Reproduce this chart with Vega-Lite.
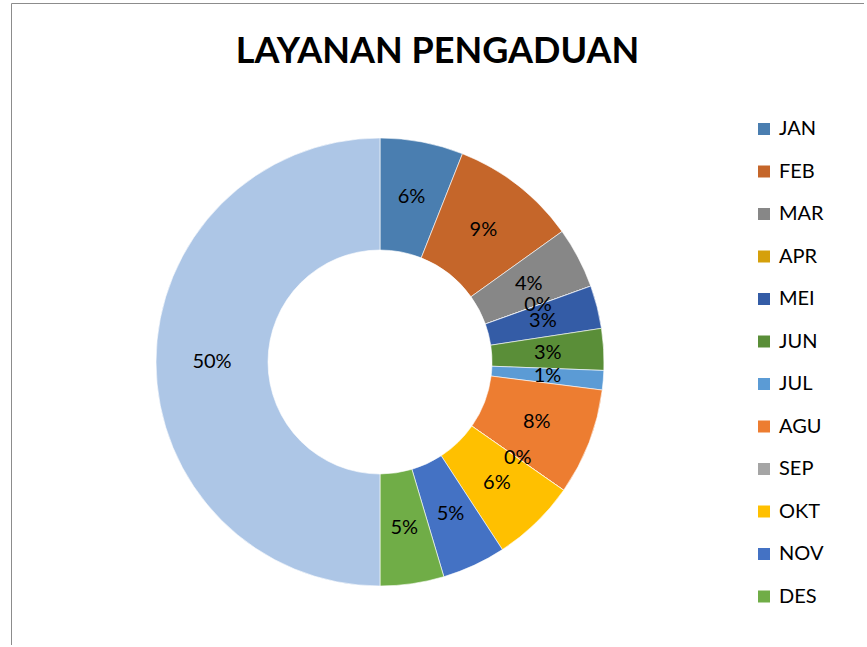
{
  "$schema": "https://vega.github.io/schema/vega-lite/v6.json",
  "width": 853,
  "height": 642,
  "autosize": "none",
  "padding": {"left": 11, "top": 3, "right": 0, "bottom": 0},
  "background": "white",
  "view": {"stroke": "#8c8c8c", "strokeWidth": 1},
  "config": {"view": {"stroke": "#8c8c8c", "strokeWidth": 1}, "font": "Lato"},
  "data": {"values": [
    {"i": 1, "m": "JAN", "v": 0.060},
    {"i": 2, "m": "FEB", "v": 0.091},
    {"i": 3, "m": "MAR", "v": 0.044},
    {"i": 4, "m": "APR", "v": 0.0},
    {"i": 5, "m": "MEI", "v": 0.031},
    {"i": 6, "m": "JUN", "v": 0.030},
    {"i": 7, "m": "JUL", "v": 0.014},
    {"i": 8, "m": "AGU", "v": 0.077},
    {"i": 9, "m": "SEP", "v": 0.0},
    {"i": 10, "m": "OKT", "v": 0.061},
    {"i": 11, "m": "NOV", "v": 0.046},
    {"i": 12, "m": "DES", "v": 0.046},
    {"i": 13, "m": "TOTAL", "v": 0.500}
  ]},
  "layer": [
    {
      "mark": {"type": "arc", "x": 369, "y": 359, "outerRadius": 224, "innerRadius": 112, "stroke": "white", "strokeWidth": 0.6},
      "encoding": {
        "theta": {"field": "v", "type": "quantitative", "stack": true},
        "order": {"field": "i", "type": "quantitative"},
        "color": {
          "field": "m", "type": "nominal",
          "scale": {
            "domain": ["JAN","FEB","MAR","APR","MEI","JUN","JUL","AGU","SEP","OKT","NOV","DES","TOTAL"],
            "range": ["#4a7eb0","#c5662a","#878787","#d5a00b","#345ca6","#5a8e38","#5b9bd5","#ed7d31","#a5a5a5","#ffc000","#4472c4","#70ad47","#adc6e6"]
          },
          "legend": {
            "values": ["JAN","FEB","MAR","APR","MEI","JUN","JUL","AGU","SEP","OKT","NOV","DES"],
            "title": null,
            "orient": "none",
            "legendX": 743,
            "legendY": 116,
            "padding": 0,
            "symbolType": "square",
            "symbolSize": 144,
            "symbolStrokeWidth": 0,
            "labelFontSize": 20,
            "labelFont": "Lato",
            "labelColor": "black",
            "labelOffset": 5,
            "rowPadding": 22.5
          }
        }
      }
    },
    {
      "mark": {"type": "text", "x": 369, "y": 359, "radius": 168, "fontSize": 20, "font": "Lato", "color": "black"},
      "encoding": {
        "theta": {"field": "v", "type": "quantitative", "stack": true},
        "order": {"field": "i", "type": "quantitative"},
        "detail": {"field": "m", "type": "nominal"},
        "text": {"field": "v", "type": "quantitative", "format": ".0%"}
      }
    },
    {
      "data": {"values": [{"t": "LAYANAN PENGADUAN"}]},
      "mark": {"type": "text", "x": {"expr": "width/2"}, "y": 60, "fontSize": 36, "fontWeight": "bold", "font": "Lato", "color": "black", "align": "center", "baseline": "alphabetic"},
      "encoding": {
        "text": {"field": "t", "type": "nominal"}
      }
    }
  ]
}
